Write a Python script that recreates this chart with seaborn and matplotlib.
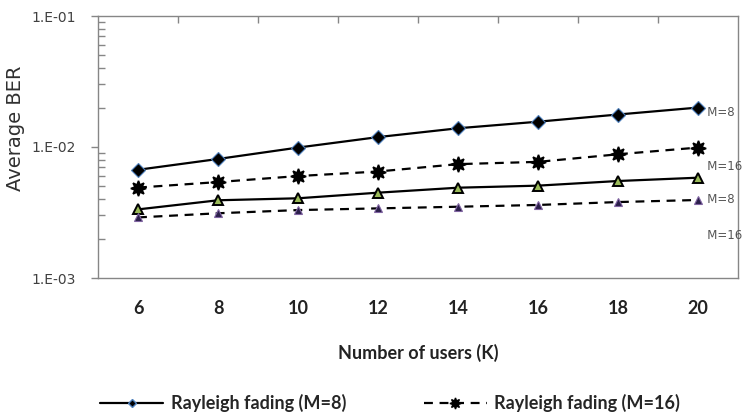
import matplotlib
matplotlib.use('Agg')
import matplotlib.pyplot as plt
import matplotlib.ticker as mticker
from matplotlib.lines import Line2D
import seaborn as sns

# Data
users = [6, 8, 10, 12, 14, 16, 18, 20]
ber_m8 = [0.0067, 0.0081, 0.0099, 0.0119, 0.0139, 0.0156, 0.0177, 0.0200]
ber_m16 = [0.0049, 0.0054, 0.0060, 0.0065, 0.0074, 0.0077, 0.0088, 0.0099]
ber_b_m8 = [0.00334, 0.00392, 0.00406, 0.00448, 0.00489, 0.00507, 0.0055, 0.00583]
ber_b_m16 = [0.0029, 0.00312, 0.0033, 0.0034, 0.0035, 0.00361, 0.0038, 0.00394]
series_labels = ["Rayleigh fading (M=8)", "Rayleigh fading (M=16)"]
side_labels = ["M=8", "M=16", "M=8", "M=16"]
y_ticks = [1e-3, 1e-2, 1e-1]
y_tick_labels = ["1.E-03", "1.E-02", "1.E-01"]

sns.set_style("white")
plt.rcParams['font.family'] = ['DejaVu Sans']
narrow = 'Lato'
nweight = 'bold'
nsize = 13

fig = plt.figure(figsize=(7.43, 4.16), dpi=100)
ax = fig.add_axes([98 / 743, 1 - 278 / 416, 640 / 743, 262 / 416])

dash = (0, (4, 3))
sns.lineplot(x=users, y=ber_m8, ax=ax, color='black', lw=1.6,
             marker='D', markersize=7, markerfacecolor='black',
             markeredgecolor='#4f81bd', markeredgewidth=0.8)
sns.lineplot(x=users, y=ber_m16, ax=ax, color='black', lw=1.6, linestyle=dash,
             marker=(8, 1, 0), markersize=11, markerfacecolor='black',
             markeredgecolor='black', markeredgewidth=1.2)
sns.lineplot(x=users, y=ber_b_m8, ax=ax, color='black', lw=1.6,
             marker='^', markersize=7, markerfacecolor='#9bbb59',
             markeredgecolor='black', markeredgewidth=1.4)
sns.lineplot(x=users, y=ber_b_m16, ax=ax, color='black', lw=1.6, linestyle=dash,
             marker='^', markersize=6, markerfacecolor='#2b1f4a',
             markeredgecolor='#8064a2', markeredgewidth=0.8)

ax.set_yscale('log')
ax.set_ylim(1e-3, 1e-1)
ax.set_xlim(5, 21)

ax.yaxis.set_major_locator(mticker.FixedLocator(y_ticks))
ax.yaxis.set_major_formatter(mticker.FixedFormatter(y_tick_labels))
ax.yaxis.set_minor_locator(mticker.LogLocator(base=10, subs=range(2, 10)))
ax.yaxis.set_minor_formatter(mticker.NullFormatter())
ax.tick_params(axis='y', which='major', direction='out', length=5, width=1,
               color='#868686', labelsize=10, labelcolor='#404040', pad=11, left=True)
ax.tick_params(axis='y', which='minor', direction='in', length=5, width=1,
               color='#868686', left=True)

ax.set_xticks(users)
ax.set_xticklabels([str(u) for u in users], family=narrow, fontsize=nsize,
                   fontweight=nweight, color='#222222')
ax.xaxis.set_minor_locator(mticker.FixedLocator([7, 9, 11, 13, 15, 17, 19]))
ax.tick_params(axis='x', which='major', length=0, pad=16)
ax.tick_params(axis='x', which='minor', bottom=False, top=True, direction='in',
               length=5, width=1, color='#868686')

for side in ['left', 'right', 'top', 'bottom']:
    ax.spines[side].set_visible(True)
    ax.spines[side].set_color('#868686')
    ax.spines[side].set_linewidth(1)
ax.grid(False)

ax.set_ylabel("Average BER", fontsize=14, color='#303030')
ax.yaxis.set_label_coords(-0.114, 0.573)
ax.set_xlabel("Number of users (K)", family=narrow, fontsize=nsize,
              fontweight=nweight, color='#222222', labelpad=19)

# curve labels on the right side
for lab, yv in zip(side_labels, [0.0182, 0.00716, 0.00394, 0.0021]):
    ax.text(19.95, yv, "   " + lab, fontsize=8.5, color='#555555', va='center',
            ha='left', clip_on=False)

handles = [
    Line2D([], [], color='black', lw=1.6, marker='D', markersize=4,
           markerfacecolor='black', markeredgecolor='#4f81bd'),
    Line2D([], [], color='black', lw=1.6, linestyle=dash, marker=(8, 1, 0),
           markersize=8, markerfacecolor='black', markeredgecolor='black'),
]
fig.legend(handles, series_labels, loc='center left',
           bbox_to_anchor=(84 / 743, 1 - 403 / 416),
           ncol=2, frameon=False, handlelength=3.5, handletextpad=0.4,
           columnspacing=4.3,
           prop={'family': narrow, 'size': nsize, 'weight': nweight})

fig.savefig("out.png", dpi=100)
